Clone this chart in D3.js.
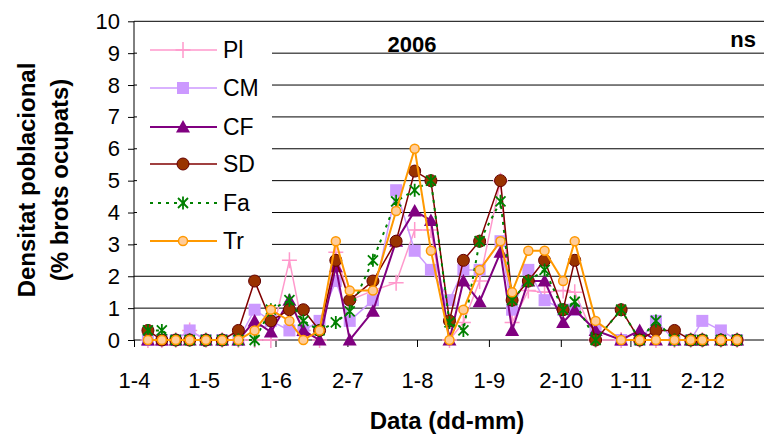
<!DOCTYPE html>
<html><head><meta charset="utf-8">
<script src="https://cdn.jsdelivr.net/npm/d3@7"></script>
<style>body{margin:0;background:#fff}svg{display:block}text{font-family:"Liberation Sans",Arial,sans-serif}</style>
</head><body>
<svg id="c" width="764" height="434"></svg>
<script>
const dates = ["2006-04-07","2006-04-13","2006-04-19","2006-04-25","2006-05-02","2006-05-09","2006-05-16","2006-05-23","2006-05-30","2006-06-07","2006-06-13","2006-06-20","2006-06-27","2006-07-03","2006-07-13","2006-07-23","2006-07-31","2006-08-07","2006-08-15","2006-08-21","2006-08-28","2006-09-06","2006-09-11","2006-09-18","2006-09-25","2006-10-03","2006-10-08","2006-10-17","2006-10-28","2006-11-05","2006-11-12","2006-11-20","2006-11-27","2006-12-02","2006-12-10","2006-12-17"];
const PI = [0,0,0,0.3,0,0,0,0,0,2.5,0.3,0,2.75,1.25,1.55,1.8,3.45,3.45,0,0.55,1.85,5.0,0.55,1.55,1.5,1.55,1.5,0,0,0,0,0,0,0,0,0];
const CM = [0,0,0,0.3,0,0,0,0.95,0.6,0.3,0.3,0.6,1.85,0.6,1.25,4.7,2.8,2.2,1.25,2.2,2.2,3.1,0.95,2.2,1.25,0.95,0.95,0.3,0,0,0.6,0,0,0.6,0.3,0];
const CF = [0,0,0,0,0,0,0,0.6,0.25,1.25,0.3,0,2.3,0,0.9,3.1,4.05,3.75,0,1.85,1.2,2.75,0.3,1.85,1.85,0.55,0.95,0.3,0,0.3,0,0,0,0,0,0];
const SD = [0.3,0,0,0,0,0,0.3,1.85,0.6,0.95,0.95,0.3,2.5,1.25,1.85,3.1,5.3,5.0,0.6,2.5,3.1,5.0,1.25,1.85,2.5,0.95,2.5,0,0.95,0,0.3,0.3,0,0,0,0];
const Fa = [0.3,0.3,0,0,0,0,0,0,0.95,1.25,0.6,0.3,0.55,0.9,2.5,4.35,4.7,5.0,0.55,0.3,3.1,4.35,1.25,1.85,2.2,0.95,1.2,0,0.95,0,0.6,0,0,0,0,0];
const Tr = [0,0,0,0,0,0,0,0.3,0.95,0.6,0,0.3,3.1,1.55,1.55,4.05,6.0,2.8,0,0.95,2.2,3.1,1.5,2.8,2.8,1.85,3.1,0.6,0,0,0,0,0,0,0,0];
const seriesNames = ["Pl","CM","CF","SD","Fa","Tr"];
const tickDates = ["2006-04-01","2006-05-01","2006-06-01","2006-07-02","2006-08-01","2006-09-01","2006-10-02","2006-11-01","2006-12-02"];
const tickLabels = ["1-4","1-5","1-6","2-7","1-8","1-9","2-10","1-11","2-12"];
const yTicks = [0,1,2,3,4,5,6,7,8,9,10];

const parse = d3.utcParse("%Y-%m-%d");
const svg = d3.select("#c");
const L = 134, B = 340, T = 21.3;
const x = d3.scaleUtc().domain([parse("2006-04-01"), parse("2007-01-01")]).range([L, L + 275*(283/122)]);
const y = d3.scaleLinear().domain([0,10]).range([B, T]);

// gridlines
svg.append("g").selectAll("line").data(yTicks.slice(1)).join("line")
  .attr("x1", L).attr("x2", 764).attr("y1", d=>y(d)).attr("y2", d=>y(d))
  .attr("stroke", "#000").attr("stroke-width", 1);

// axes
const yAxis = d3.axisLeft(y).tickValues(yTicks).tickSize(6).tickPadding(8).tickFormat(d3.format("d"));
const gy = svg.append("g").attr("transform", `translate(${L},0)`).call(yAxis);
gy.select(".domain").attr("stroke","#000").attr("d", `M0,${T}V${B}`);
gy.selectAll("text").attr("font-size", 22).attr("fill","#000").attr("font-family","Liberation Sans, Arial");
const xAxis = d3.axisBottom(x).tickValues(tickDates.map(parse)).tickSize(7).tickPadding(25)
  .tickFormat((d,i)=>tickLabels[i]);
const gx = svg.append("g").attr("transform", `translate(0,${B})`).call(xAxis);
gx.select(".domain").attr("stroke","#000").attr("d", `M${L},0H764`);
gx.selectAll("text").attr("font-size", 22).attr("fill","#000").attr("font-family","Liberation Sans, Arial");

// legend background
svg.append("rect").attr("x",137).attr("y",27).attr("width",135).attr("height",233).attr("fill","#fff");

// marker drawers
const styles = {
  Pl:{color:"#FF99CC", width:1.5, dash:null},
  CM:{color:"#CC99FF", width:1.5, dash:null},
  CF:{color:"#800080", width:2, dash:null},
  SD:{color:"#800000", width:1.5, dash:null},
  Fa:{color:"#008000", width:2, dash:"3,5"},
  Tr:{color:"#FF9900", width:2, dash:null}
};
function marker(g, name){
  if(name==="Pl") g.append("path").attr("d","M-7.5,0H7.5M0,-8V8").attr("stroke","#FF99CC").attr("stroke-width",1.5).attr("fill","none");
  else if(name==="CM") g.append("rect").attr("x",-6).attr("y",-6).attr("width",12).attr("height",12).attr("fill","#CC99FF");
  else if(name==="CF") g.append("path").attr("d","M0,-7L7,5.5L-7,5.5Z").attr("fill","#800080");
  else if(name==="SD") g.append("circle").attr("r",6).attr("fill","#993300").attr("stroke","#660000").attr("stroke-width",1);
  else if(name==="Fa") g.append("path").attr("d","M-5,-5L5,5M-5,5L5,-5M0,-6.5V6.5").attr("stroke","#008000").attr("stroke-width",1.8).attr("fill","none");
  else if(name==="Tr") g.append("circle").attr("r",4.5).attr("fill","#FFCC99").attr("stroke","#FF9900").attr("stroke-width",1.5);
}

const allVals = {Pl:PI, CM:CM, CF:CF, SD:SD, Fa:Fa, Tr:Tr};
const line = d3.line().x(d=>x(d.date)).y(d=>y(d.v));
seriesNames.forEach(name=>{
  const data = dates.map((dt,i)=>({date:parse(dt), v:allVals[name][i]}));
  const st = styles[name];
  const g = svg.append("g");
  g.append("path").datum(data).attr("d", line).attr("fill","none")
    .attr("stroke", st.color).attr("stroke-width", st.width).attr("stroke-dasharray", st.dash);
  g.selectAll("g.m").data(data).join("g").attr("class","m")
    .attr("transform", d=>`translate(${x(d.date)},${y(d.v)})`)
    .each(function(){ marker(d3.select(this), name); });
});

// legend
const legY = [50, 88, 127, 164, 203, 241];
seriesNames.forEach((name,i)=>{
  const st = styles[name];
  const g = svg.append("g").attr("transform", `translate(0,${legY[i]})`);
  g.append("line").attr("x1",150).attr("x2",217).attr("y1",0).attr("y2",0)
    .attr("stroke", st.color).attr("stroke-width", st.width).attr("stroke-dasharray", st.dash);
  const m = g.append("g").attr("transform","translate(183,0)");
  marker(m, name);
  g.append("text").attr("x",223).attr("y",8).attr("font-size",23).text(name);
});

// annotations
svg.append("text").attr("x",412).attr("y",52).attr("text-anchor","middle").attr("font-size",22).attr("font-weight","bold").text("2006");
svg.append("text").attr("x",756).attr("y",47).attr("text-anchor","end").attr("font-size",22).attr("font-weight","bold").text("ns");

// axis titles
svg.append("text").attr("x",447).attr("y",429).attr("text-anchor","middle").attr("font-size",24).attr("font-weight","bold").text("Data (dd-mm)");
svg.append("text").attr("transform","translate(35,180) rotate(-90)").attr("text-anchor","middle").attr("font-size",24).attr("font-weight","bold").text("Densitat poblacional");
svg.append("text").attr("transform","translate(68,180) rotate(-90)").attr("text-anchor","middle").attr("font-size",24).attr("font-weight","bold").text("(% brots ocupats)");
</script>
</body></html>
